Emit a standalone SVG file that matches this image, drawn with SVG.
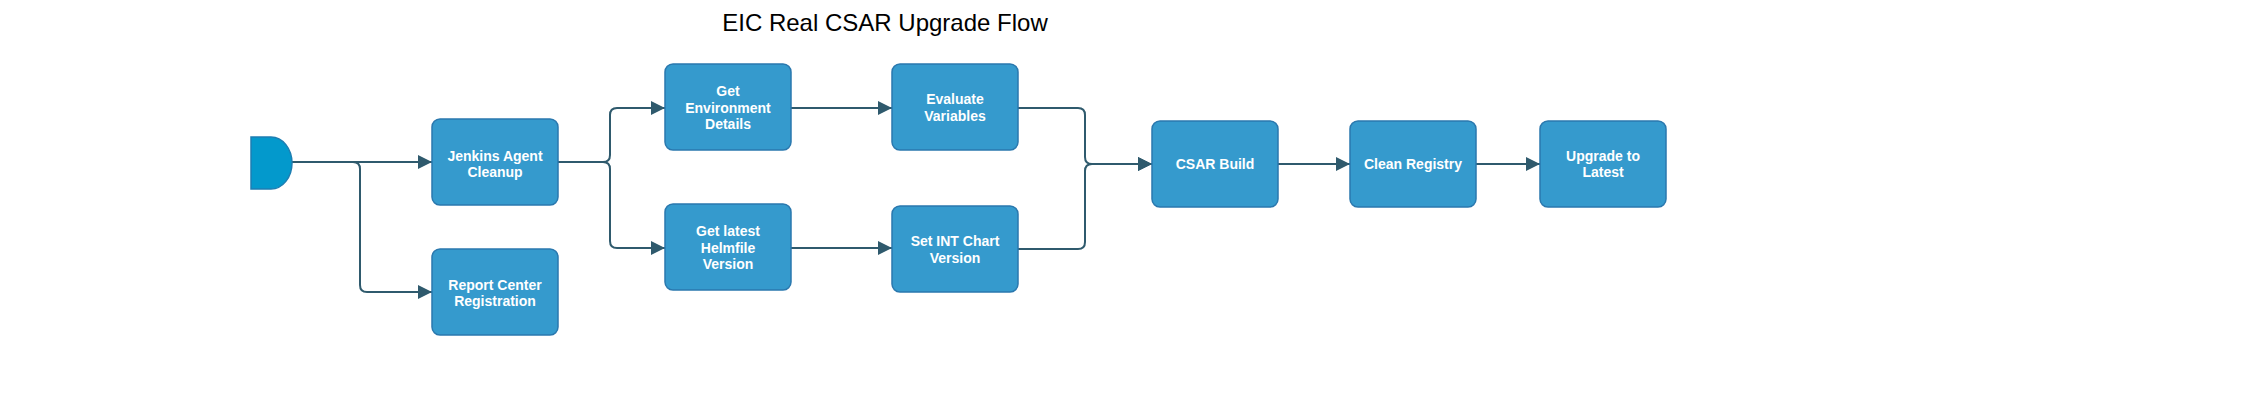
<svg xmlns="http://www.w3.org/2000/svg" width="2251" height="420" viewBox="0 0 2251 420">
<style>
.bg{fill:#ffffff}
.title{font-family:"Liberation Sans",Arial,sans-serif;font-size:24px;fill:#000000;text-anchor:middle}
.box{fill:#359ACD;stroke:#2A78AE;stroke-width:1.5}
.start{fill:#0399CC;stroke:#1E7EB2;stroke-width:1.5}
.lbl{font-family:"Liberation Sans",Arial,sans-serif;font-size:14px;font-weight:bold;fill:#ffffff;text-anchor:middle}
.edge{fill:none;stroke:#2F5A6D;stroke-width:2}
</style>
<defs>
<marker id="arrow" markerUnits="userSpaceOnUse" markerWidth="14" markerHeight="14" refX="14" refY="7" orient="auto">
<path d="M0,0 L14,7 L0,14 Z" fill="#2F5A6D"/>
</marker>
</defs>
<rect class="bg" x="0" y="0" width="2251" height="420"/>
<text class="title" x="885" y="31">EIC Real CSAR Upgrade Flow</text>

<g id="connectors">
<path class="edge" marker-end="url(#arrow)" d="M292,162 H432"/>
<path class="edge" marker-end="url(#arrow)" d="M292,162 H353 Q360,162 360,169 V285 Q360,292 367,292 H432"/>
<path class="edge" marker-end="url(#arrow)" d="M558,162 H603 Q610,162 610,155 V115 Q610,108 617,108 H665"/>
<path class="edge" marker-end="url(#arrow)" d="M558,162 H603 Q610,162 610,169 V241 Q610,248 617,248 H665"/>
<path class="edge" marker-end="url(#arrow)" d="M791,108 H892"/>
<path class="edge" marker-end="url(#arrow)" d="M791,248 H892"/>
<path class="edge" marker-end="url(#arrow)" d="M1018,108 H1078 Q1085,108 1085,115 V157 Q1085,164 1092,164 H1152"/>
<path class="edge" marker-end="url(#arrow)" d="M1018,249 H1078 Q1085,249 1085,242 V171 Q1085,164 1092,164 H1152"/>
<path class="edge" marker-end="url(#arrow)" d="M1278,164 H1350"/>
<path class="edge" marker-end="url(#arrow)" d="M1476,164 H1540"/>
</g>

<g id="start">
<path class="start" d="M251,137 H271 A21,26 0 0 1 271,189 H251 Z"/>
</g>

<g id="jenkins-agent-cleanup">
<rect class="box" x="432" y="119" width="126" height="86" rx="8" ry="8"/>
<text class="lbl" x="495" y="160.5">Jenkins Agent</text>
<text class="lbl" x="495" y="177">Cleanup</text>
</g>

<g id="report-center-registration">
<rect class="box" x="432" y="249" width="126" height="86" rx="8" ry="8"/>
<text class="lbl" x="495" y="289.5">Report Center</text>
<text class="lbl" x="495" y="306">Registration</text>
</g>

<g id="get-environment-details">
<rect class="box" x="665" y="64" width="126" height="86" rx="8" ry="8"/>
<text class="lbl" x="728" y="96">Get</text>
<text class="lbl" x="728" y="112.5">Environment</text>
<text class="lbl" x="728" y="129">Details</text>
</g>

<g id="get-latest-helmfile-version">
<rect class="box" x="665" y="204" width="126" height="86" rx="8" ry="8"/>
<text class="lbl" x="728" y="236">Get latest</text>
<text class="lbl" x="728" y="252.5">Helmfile</text>
<text class="lbl" x="728" y="269">Version</text>
</g>

<g id="evaluate-variables">
<rect class="box" x="892" y="64" width="126" height="86" rx="8" ry="8"/>
<text class="lbl" x="955" y="104">Evaluate</text>
<text class="lbl" x="955" y="120.5">Variables</text>
</g>

<g id="set-int-chart-version">
<rect class="box" x="892" y="206" width="126" height="86" rx="8" ry="8"/>
<text class="lbl" x="955" y="246">Set INT Chart</text>
<text class="lbl" x="955" y="262.5">Version</text>
</g>

<g id="csar-build">
<rect class="box" x="1152" y="121" width="126" height="86" rx="8" ry="8"/>
<text class="lbl" x="1215" y="169">CSAR Build</text>
</g>

<g id="clean-registry">
<rect class="box" x="1350" y="121" width="126" height="86" rx="8" ry="8"/>
<text class="lbl" x="1413" y="169">Clean Registry</text>
</g>

<g id="upgrade-to-latest">
<rect class="box" x="1540" y="121" width="126" height="86" rx="8" ry="8"/>
<text class="lbl" x="1603" y="160.5">Upgrade to</text>
<text class="lbl" x="1603" y="177">Latest</text>
</g>
</svg>
